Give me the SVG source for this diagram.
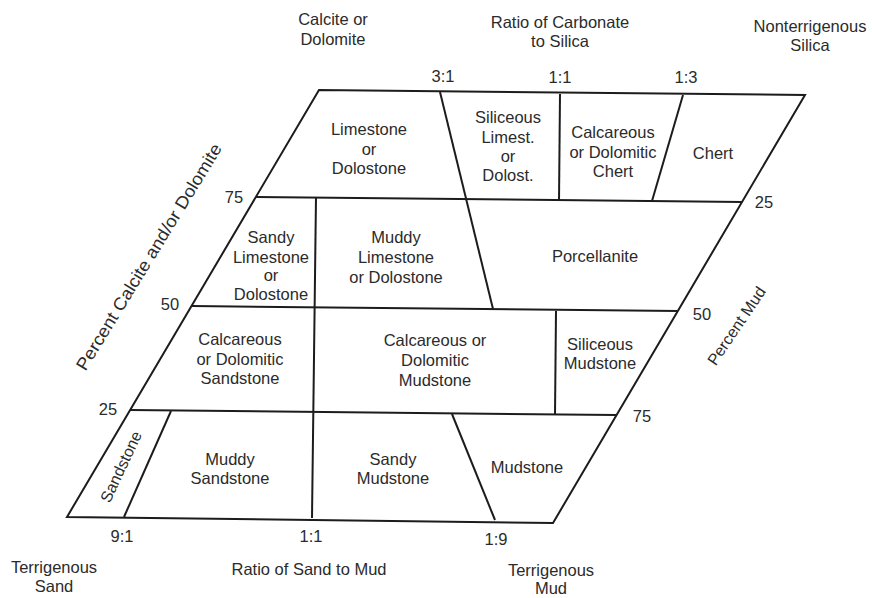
<svg xmlns="http://www.w3.org/2000/svg" width="872" height="598" viewBox="0 0 872 598">
<style>
  text { font-family: "Liberation Sans", Arial, sans-serif; font-size: 16.5px; fill: #2b2b2b; text-anchor: middle; }
  .ln { stroke: #1c1c1c; stroke-width: 2; fill: none; stroke-linejoin: miter; }
  .tick { font-size: 16.5px; }
</style>
<rect width="872" height="598" fill="#ffffff"/>

<g id="connectors">
  <path class="ln" d="M319,90 L805,95 L553,523 L67,517 Z"/>
  <line class="ln" x1="256" y1="197" x2="742" y2="202"/>
  <line class="ln" x1="192" y1="306" x2="678" y2="311"/>
  <line class="ln" x1="130" y1="410" x2="616" y2="415"/>
  <line class="ln" x1="440" y1="92" x2="493" y2="309"/>
  <line class="ln" x1="560" y1="94" x2="559" y2="201"/>
  <line class="ln" x1="683" y1="95" x2="652" y2="201"/>
  <line class="ln" x1="316" y1="197" x2="312" y2="518"/>
  <line class="ln" x1="556" y1="311" x2="555" y2="415"/>
  <line class="ln" x1="171" y1="411" x2="124" y2="517"/>
  <line class="ln" x1="452" y1="414" x2="495" y2="520"/>
</g>

<g id="corner-labels">
  <text x="333" y="25">Calcite or</text>
  <text x="333" y="45">Dolomite</text>
  <text x="560" y="28">Ratio of Carbonate</text>
  <text x="560" y="47">to Silica</text>
  <text x="810" y="32">Nonterrigenous</text>
  <text x="810" y="51">Silica</text>
  <text x="54" y="573">Terrigenous</text>
  <text x="54" y="592">Sand</text>
  <text x="309" y="575">Ratio of Sand to Mud</text>
  <text x="551" y="576">Terrigenous</text>
  <text x="551" y="594">Mud</text>
  <text transform="translate(154,260) rotate(-58.5)" textLength="262" lengthAdjust="spacingAndGlyphs" style="font-size:17.5px">Percent Calcite and/or Dolomite</text>
  <text transform="translate(741,329) rotate(-56)" style="font-size:16px">Percent Mud</text>
</g>

<g id="ticks">
  <text class="tick" x="443" y="82">3:1</text>
  <text class="tick" x="560" y="83">1:1</text>
  <text class="tick" x="686" y="83">1:3</text>
  <text class="tick" x="234" y="203">75</text>
  <text class="tick" x="170" y="310">50</text>
  <text class="tick" x="108" y="415">25</text>
  <text class="tick" x="764" y="208">25</text>
  <text class="tick" x="702" y="320">50</text>
  <text class="tick" x="642" y="422">75</text>
  <text class="tick" x="122" y="542">9:1</text>
  <text class="tick" x="311" y="542">1:1</text>
  <text class="tick" x="496" y="545">1:9</text>
</g>

<g id="limestone">
  <text x="369" y="135">Limestone</text>
  <text x="369" y="155">or</text>
  <text x="369" y="174">Dolostone</text>
</g>
<g id="siliceous-limestone">
  <text x="508" y="123">Siliceous</text>
  <text x="508" y="143">Limest.</text>
  <text x="508" y="162">or</text>
  <text x="508" y="181">Dolost.</text>
</g>
<g id="calcareous-chert">
  <text x="613" y="138">Calcareous</text>
  <text x="613" y="158">or Dolomitic</text>
  <text x="613" y="177">Chert</text>
</g>
<g id="chert">
  <text x="713" y="159">Chert</text>
</g>
<g id="sandy-limestone">
  <text x="271" y="243">Sandy</text>
  <text x="271" y="263">Limestone</text>
  <text x="271" y="281">or</text>
  <text x="271" y="300">Dolostone</text>
</g>
<g id="muddy-limestone">
  <text x="396" y="243">Muddy</text>
  <text x="396" y="263">Limestone</text>
  <text x="396" y="283">or Dolostone</text>
</g>
<g id="porcellanite">
  <text x="595" y="262">Porcellanite</text>
</g>
<g id="calcareous-sandstone">
  <text x="240" y="345">Calcareous</text>
  <text x="240" y="365">or Dolomitic</text>
  <text x="240" y="384">Sandstone</text>
</g>
<g id="calcareous-mudstone">
  <text x="435" y="346">Calcareous or</text>
  <text x="435" y="366">Dolomitic</text>
  <text x="435" y="386">Mudstone</text>
</g>
<g id="siliceous-mudstone">
  <text x="600" y="350">Siliceous</text>
  <text x="600" y="369">Mudstone</text>
</g>
<g id="sandstone">
  <text transform="translate(126,469) rotate(-65)" style="font-size:16px">Sandstone</text>
</g>
<g id="muddy-sandstone">
  <text x="230" y="465">Muddy</text>
  <text x="230" y="484">Sandstone</text>
</g>
<g id="sandy-mudstone">
  <text x="393" y="465">Sandy</text>
  <text x="393" y="484">Mudstone</text>
</g>
<g id="mudstone">
  <text x="527" y="473">Mudstone</text>
</g>
</svg>
